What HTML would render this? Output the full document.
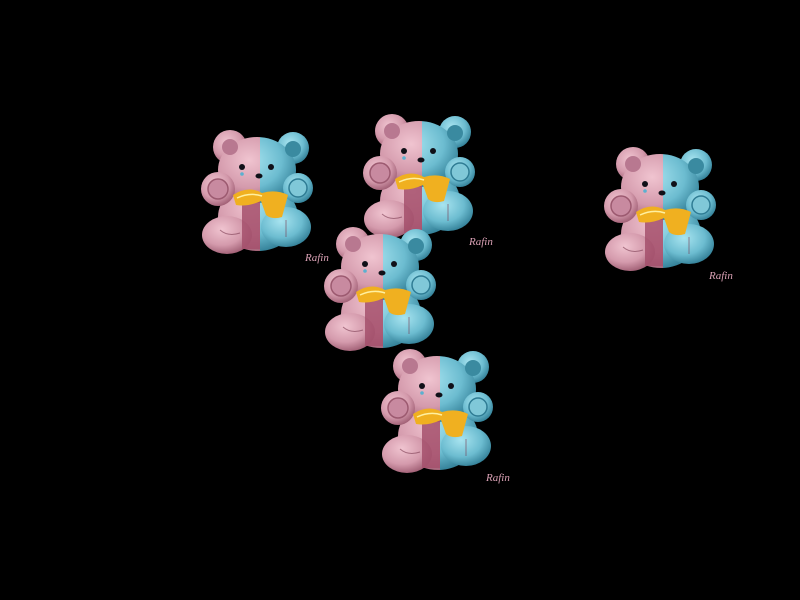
<!DOCTYPE html>
<html><head><meta charset="utf-8">
<style>
html,body{margin:0;padding:0;background:#000;width:800px;height:600px;overflow:hidden}
svg{display:block}
.sig{font-family:"Liberation Serif",serif;font-style:italic;font-size:11px;fill:#d9a0b4}
</style></head>
<body>
<svg width="800" height="600" viewBox="0 0 800 600">
<defs>
  <clipPath id="leftHalf"><rect x="-20" y="-20" width="80" height="180"/></clipPath>
  <clipPath id="rightHalf"><rect x="60" y="-20" width="80" height="180"/></clipPath>
  <radialGradient id="pinkG" cx="40%" cy="35%" r="70%">
    <stop offset="0" stop-color="#f0c4d0"/><stop offset="0.6" stop-color="#d49aac"/><stop offset="1" stop-color="#9c5a70"/>
  </radialGradient>
  <radialGradient id="blueG" cx="40%" cy="35%" r="70%">
    <stop offset="0" stop-color="#a8e4f0"/><stop offset="0.6" stop-color="#6cbcd0"/><stop offset="1" stop-color="#2f7c94"/>
  </radialGradient>
  <g id="shape">
    <ellipse cx="58" cy="92" rx="40" ry="34"/>
    <circle cx="30" cy="22" r="17"/>
    <circle cx="93" cy="23" r="16"/>
    <ellipse cx="57" cy="45" rx="39" ry="33"/>
    <circle cx="18" cy="64" r="17"/>
    <circle cx="98" cy="63" r="15"/>
    <ellipse cx="27" cy="110" rx="25" ry="19"/>
    <ellipse cx="86" cy="102" rx="25" ry="20"/>
  </g>
  <symbol id="bear" viewBox="0 0 115 135" width="115" height="135" overflow="visible">
    <use href="#shape" fill="url(#pinkG)" clip-path="url(#leftHalf)"/>
    <use href="#shape" fill="url(#blueG)" clip-path="url(#rightHalf)"/>
    <rect x="42" y="74" width="18" height="50" fill="#a4506c" opacity="0.85"/>
    <circle cx="93" cy="24" r="8" fill="#3a8aa0"/>
    <circle cx="30" cy="22" r="8" fill="#b87890"/>
    <circle cx="18" cy="64" r="10" fill="#c88aa0" stroke="#9c5a70" stroke-width="1.5"/>
    <circle cx="98" cy="63" r="9" fill="#80c8d8" stroke="#2f7c94" stroke-width="1.5"/>
    <circle cx="42" cy="42" r="3" fill="#101018"/>
    <circle cx="71" cy="42" r="3" fill="#101018"/>
    <ellipse cx="59" cy="51" rx="3.5" ry="2.5" fill="#101018"/>
    <circle cx="42" cy="49" r="1.8" fill="#5ab0d0"/>
    <path d="M33 70 Q48 60 62 68 Q76 64 88 70 L82 92 Q72 95 66 90 L61 76 Q48 82 36 80 Z" fill="#f0b020"/>
    <path d="M37 73 Q50 67 62 71" stroke="#fff0a0" stroke-width="1.5" fill="none"/>
    <path d="M20 105 Q28 112 40 108 M86 95 L86 112" stroke="#7a3a50" stroke-width="1" fill="none" opacity="0.6"/>
  </symbol>
</defs>
<rect x="0" y="0" width="800" height="600" fill="#000"/>
<use href="#bear" x="200" y="125"/>
<text class="sig" x="305" y="261">Rafin</text>
<use href="#bear" x="362" y="109"/>
<text class="sig" x="469" y="245">Rafin</text>
<use href="#bear" x="323" y="222"/>
<use href="#bear" x="380" y="344"/>
<text class="sig" x="486" y="481">Rafin</text>
<use href="#bear" x="603" y="142"/>
<text class="sig" x="709" y="279">Rafin</text>
</svg>
</body></html>
